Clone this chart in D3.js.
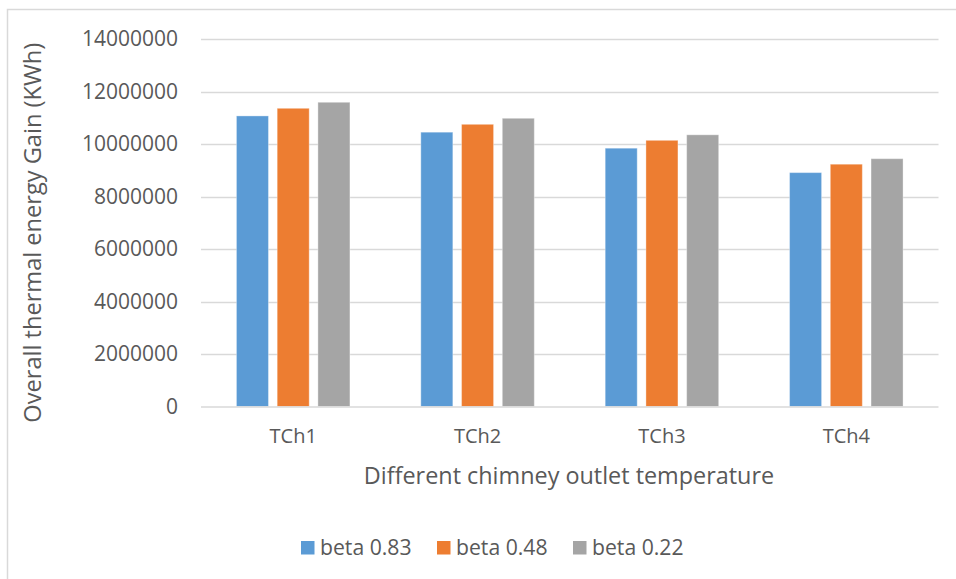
<!DOCTYPE html>
<html>
<head>
<meta charset="utf-8">
<script src="https://cdn.jsdelivr.net/npm/d3@7"></script>
<style>
html,body{margin:0;padding:0;background:#fff;}
svg{display:block;}
text{font-family:"Open Sans",sans-serif;fill:#595959;}
</style>
</head>
<body>
<svg id="chart" width="956" height="579"></svg>
<script>
const categories = ["TCh1", "TCh2", "TCh3", "TCh4"];
const seriesNames = ["beta 0.83", "beta 0.48", "beta 0.22"];
const beta083 = [11070000, 10450000, 9840000, 8910000];
const beta048 = [11360000, 10750000, 10140000, 9230000];
const beta022 = [11590000, 10980000, 10350000, 9440000];
const yTicks = [0, 2000000, 4000000, 6000000, 8000000, 10000000, 12000000, 14000000];
const colors = ["#5B9BD5", "#ED7D31", "#A5A5A5"];
const xTitle = "Different chimney outlet temperature";
const yTitle = "Overall thermal energy Gain (KWh)";

(function () {
const series = [beta083, beta048, beta022];
const svg = d3.select("#chart");

// chart border
svg.append("rect").attr("x", 7.5).attr("y", 9.5).attr("width", 960).attr("height", 600)
  .attr("fill", "none").attr("stroke", "#D9D9D9").attr("stroke-width", 1.5);

const pL = 201, pR = 938.5, pT = 39, pB = 406.5;
const x = d3.scaleBand().domain(categories).range([pL, pR]);
const xs = d3.scaleBand().domain(d3.range(seriesNames.length)).range([0, x.bandwidth()]).paddingInner(0.214).paddingOuter(0.87);
const y = d3.scaleLinear().domain([0, 14000000]).range([pB, pT]);

// gridlines
svg.append("g").selectAll("line").data(yTicks.filter(d => d > 0)).join("line")
  .attr("x1", pL).attr("x2", pR)
  .attr("y1", d => Math.round(y(d)) + 0.5).attr("y2", d => Math.round(y(d)) + 0.5)
  .attr("stroke", "#D9D9D9").attr("stroke-width", 1.5);

// y tick labels via axis
const yAxis = svg.append("g").attr("transform", `translate(${pL},0)`)
  .call(d3.axisLeft(y).tickValues(yTicks).tickFormat(d3.format("d")).tickSize(0).tickPadding(23));
yAxis.select(".domain").remove();
yAxis.selectAll("text").style("font-family", "'Open Sans',sans-serif").style("font-size", "21px").attr("fill", "#595959");

// bars
const groups = svg.append("g").selectAll("g").data(categories).join("g")
  .attr("transform", d => `translate(${x(d)},0)`);
groups.selectAll("rect").data((c, i) => series.map((s, k) => ({k, v: s[i]}))).join("rect")
  .attr("x", d => xs(d.k)).attr("width", xs.bandwidth())
  .attr("y", d => y(d.v)).attr("height", d => y(0) - y(d.v))
  .attr("fill", d => colors[d.k])
  .attr("stroke", "#ffffff").attr("stroke-opacity", 0.35).attr("stroke-width", 1);

// baseline axis
svg.append("line").attr("x1", pL).attr("x2", pR)
  .attr("y1", pB + 0.5).attr("y2", pB + 0.5)
  .attr("stroke", "#D9D9D9").attr("stroke-width", 1.5);

// x axis labels
const xAxis = svg.append("g").attr("transform", `translate(0,${pB})`)
  .call(d3.axisBottom(x).tickSize(0).tickPadding(22));
xAxis.select(".domain").remove();
xAxis.selectAll("text").style("font-family", "'Open Sans',sans-serif").style("font-size", "20px").attr("fill", "#595959");

// axis titles
svg.append("text").attr("x", 569).attr("y", 484)
  .attr("text-anchor", "middle").style("font-size", "23.4px").text(xTitle);
svg.append("text").attr("transform", `translate(41,${(pT + pB) / 2 + 10}) rotate(-90)`)
  .attr("text-anchor", "middle").style("font-size", "23.6px").text(yTitle);

// legend
const legendX = [301, 437, 573];
const lg = svg.append("g").selectAll("g").data(seriesNames).join("g")
  .attr("transform", (d, i) => `translate(${legendX[i]},541)`);
lg.append("rect").attr("width", 13.5).attr("height", 13.5).attr("fill", (d, i) => colors[i]);
lg.append("text").attr("x", 19).attr("y", 14).style("font-size", "21.2px").text(d => d);
})();
</script>
</body>
</html>
